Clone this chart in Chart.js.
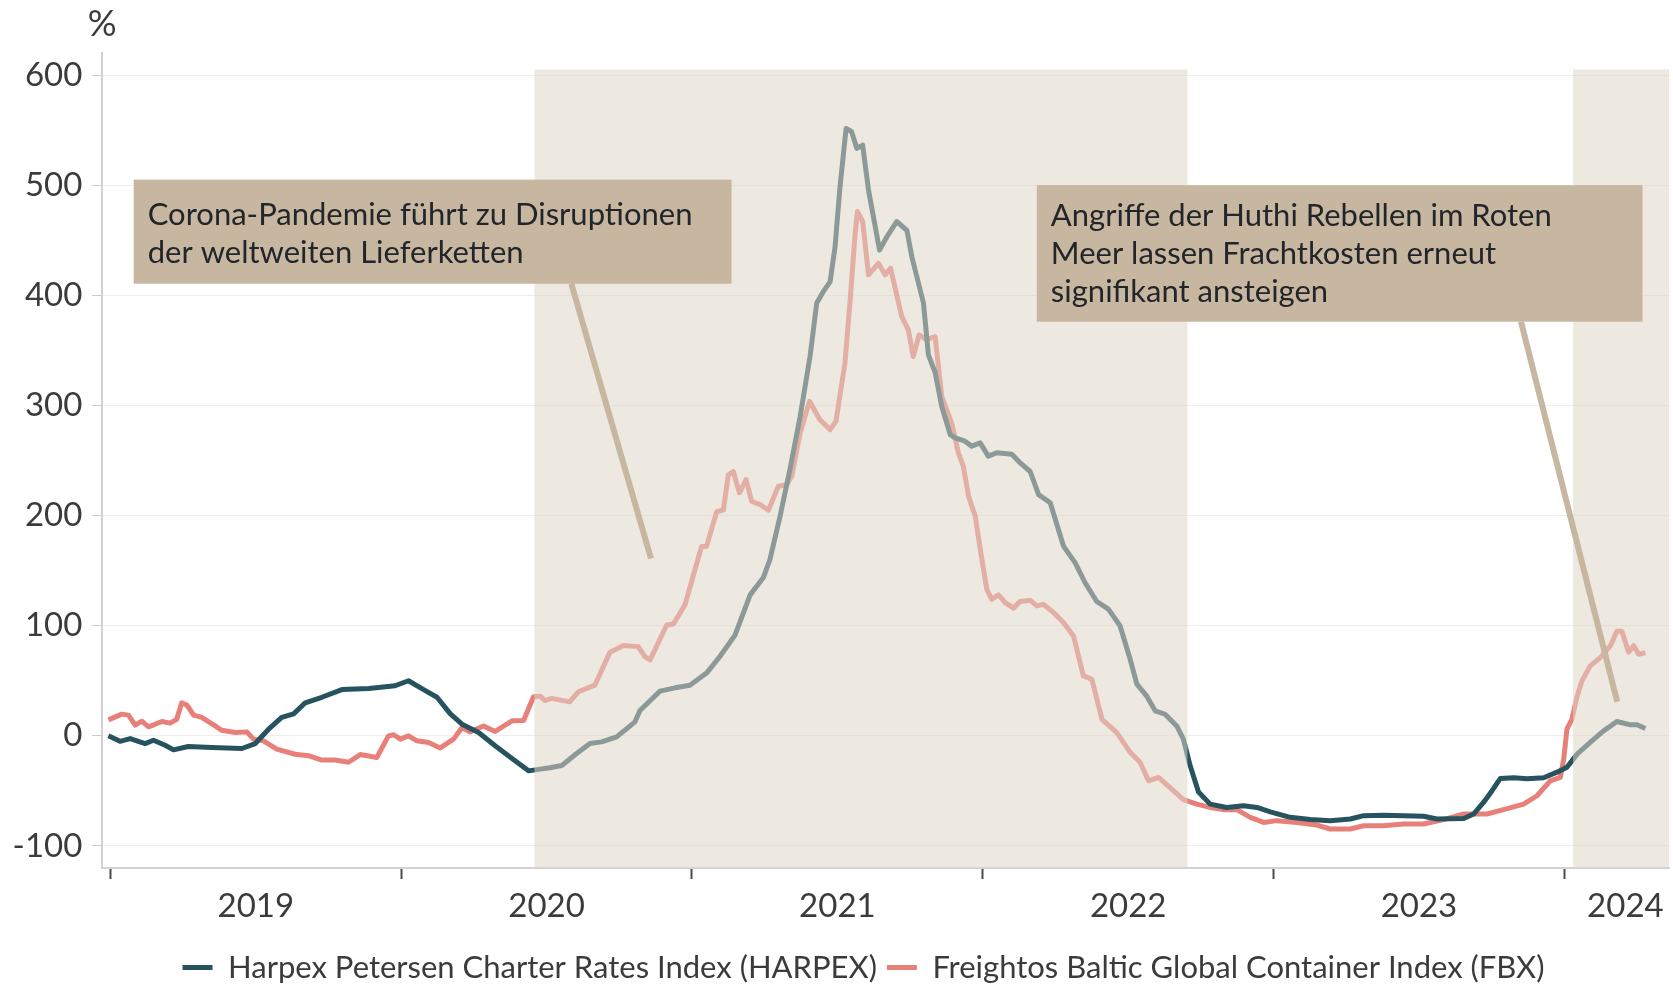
<!DOCTYPE html>
<html lang="de">
<head>
<meta charset="utf-8">
<title>Harpex und FBX</title>
<script src="https://cdn.jsdelivr.net/npm/chart.js@4.4.1/dist/chart.umd.min.js"></script>
<style>
    html, body { margin: 0; padding: 0; background: #ffffff; }
    .chart-wrap { position: relative; width: 1673px; height: 988px; }
</style>
</head>
<body>
<div class="chart-wrap"><canvas id="freightChart" width="1673" height="988"></canvas></div>
<script>
// Werte in Prozent, Zeitpunkte als Dezimaljahr
const harpexDates = [
    2018.993, 2019.033, 2019.068, 2019.119, 2019.148, 2019.188, 2019.217, 2019.268, 2019.349, 2019.452,
    2019.498, 2019.544, 2019.589, 2019.630, 2019.670, 2019.727, 2019.796, 2019.888, 2019.979, 2020.025,
    2020.077, 2020.123, 2020.169, 2020.209, 2020.266, 2020.323, 2020.381, 2020.438, 2020.484, 2020.511,
    2020.552, 2020.603, 2020.649, 2020.689, 2020.741, 2020.804, 2020.821, 2020.890, 2020.942, 2020.993,
    2021.050, 2021.096, 2021.148, 2021.200, 2021.245, 2021.268, 2021.303, 2021.337, 2021.372, 2021.406,
    2021.429, 2021.452, 2021.475, 2021.492, 2021.509, 2021.530, 2021.549, 2021.567, 2021.587, 2021.607,
    2021.645, 2021.670, 2021.704, 2021.739, 2021.756, 2021.796, 2021.813, 2021.836, 2021.859, 2021.888,
    2021.905, 2021.939, 2021.962, 2021.991, 2022.019, 2022.048, 2022.100, 2022.128, 2022.163, 2022.192,
    2022.232, 2022.278, 2022.318, 2022.352, 2022.392, 2022.432, 2022.472, 2022.507, 2022.530, 2022.564,
    2022.593, 2022.627, 2022.667, 2022.690, 2022.713, 2022.742, 2022.782, 2022.839, 2022.897, 2022.943,
    2022.989, 2023.057, 2023.126, 2023.195, 2023.264, 2023.310, 2023.378, 2023.447, 2023.516, 2023.562,
    2023.654, 2023.688, 2023.722, 2023.751, 2023.780, 2023.826, 2023.872, 2023.929, 2023.975, 2024.009,
    2024.044, 2024.089, 2024.135, 2024.181, 2024.227, 2024.250, 2024.279
];
const harpexValues = [
    0, -5, -2.5, -7, -4, -8.5, -12.7, -9.7, -10.6, -11.5,
    -7, 6, 16.7, 20, 30, 35, 42, 43, 45.5, 50,
    42, 35, 20, 10.6, 3, -9, -20.6, -31.8, -30, -29,
    -27, -16, -7, -5.5, -1, 12.7, 23, 40.6, 43.6, 46,
    57, 72, 91.5, 128, 143.5, 160, 199.5, 242, 290, 344.5,
    393, 403.5, 412.5, 444, 498.6, 551.5, 548.5, 533.4, 536.4, 495.6,
    441, 453, 467, 459, 435, 393, 346, 330, 299, 273.5,
    270.5, 267.5, 263, 266, 254, 257, 255.6, 248, 240, 219,
    211.6, 172, 157, 139, 122, 115, 100, 69.5, 47, 36,
    22.7, 19.6, 9, -3, -27, -51, -62, -65, -63.5, -65,
    -69, -74, -76, -77, -75.5, -72.5, -72, -72.5, -73, -75.5,
    -75, -71, -60.5, -50, -38.7, -38, -39, -38, -33, -28.6,
    -16.6, -6, 4.5, 13, 10, 10, 6.6
];

const fbxDates = [
    2018.993, 2019.039, 2019.062, 2019.085, 2019.108, 2019.131, 2019.177, 2019.205, 2019.228, 2019.245,
    2019.263, 2019.286, 2019.314, 2019.360, 2019.383, 2019.429, 2019.469, 2019.492, 2019.526, 2019.572,
    2019.635, 2019.681, 2019.727, 2019.773, 2019.819, 2019.859, 2019.916, 2019.956, 2019.974, 2019.997,
    2020.025, 2020.054, 2020.094, 2020.134, 2020.180, 2020.209, 2020.236, 2020.283, 2020.323, 2020.381,
    2020.421, 2020.455, 2020.478, 2020.494, 2020.517, 2020.557, 2020.580, 2020.609, 2020.666, 2020.718,
    2020.764, 2020.815, 2020.838, 2020.856, 2020.913, 2020.936, 2020.976, 2021.005, 2021.033, 2021.050,
    2021.085, 2021.108, 2021.125, 2021.142, 2021.163, 2021.186, 2021.205, 2021.234, 2021.263, 2021.297,
    2021.326, 2021.343, 2021.372, 2021.404, 2021.440, 2021.475, 2021.495, 2021.526, 2021.544, 2021.561,
    2021.569, 2021.587, 2021.607, 2021.641, 2021.664, 2021.683, 2021.721, 2021.744, 2021.761, 2021.781,
    2021.807, 2021.836, 2021.859, 2021.893, 2021.916, 2021.933, 2021.951, 2021.974, 2021.997, 2022.014,
    2022.031, 2022.054, 2022.077, 2022.106, 2022.128, 2022.163, 2022.186, 2022.209, 2022.243, 2022.278,
    2022.312, 2022.346, 2022.375, 2022.410, 2022.461, 2022.507, 2022.541, 2022.570, 2022.604, 2022.644,
    2022.690, 2022.736, 2022.782, 2022.828, 2022.874, 2022.920, 2022.966, 2023.011, 2023.080, 2023.149,
    2023.195, 2023.264, 2023.310, 2023.378, 2023.447, 2023.516, 2023.585, 2023.654, 2023.734, 2023.791,
    2023.860, 2023.906, 2023.952, 2023.986, 2023.998, 2024.009, 2024.026, 2024.044, 2024.061, 2024.089,
    2024.124, 2024.158, 2024.181, 2024.198, 2024.221, 2024.238, 2024.256, 2024.279
];
const fbxValues = [
    14.5, 19.7, 18.8, 9.7, 13.3, 8.2, 13, 11.5, 15, 30,
    28, 18.8, 16.7, 9, 5, 3, 3.6, -3, -4.5, -12,
    -16.7, -18, -22, -22, -24, -17, -19.7, 0, 1, -3,
    0, -4.5, -6, -11, -3, 7.6, 3.6, 9, 4, 13.6,
    14, 35.5, 36, 32, 34, 32, 31, 40, 46, 76,
    82, 81, 72, 69, 100.6, 101.5, 119, 146, 172, 172,
    203.6, 205, 237, 240, 220.6, 232.7, 213, 210, 205, 226.6,
    228, 235.7, 275, 303.7, 287, 278, 285.6, 338.5, 396, 456,
    476, 467, 418.6, 429, 418.6, 424.6, 381, 368.7, 344.5, 364,
    359.6, 362.6, 308, 284, 257, 245, 217.6, 199.5, 160, 133,
    124, 128, 121, 116, 122, 123, 118, 119.4, 112, 102.7,
    90.7, 54.4, 51.4, 15, 3, -15, -24, -40.8, -37.8, -47,
    -58, -62, -65, -67, -67, -74, -78.6, -77, -78.6, -81,
    -84.6, -84.6, -81.6, -81.6, -80, -80, -76, -71, -71, -67,
    -62, -54.4, -40.8, -37.8, -21, 6, 15, 36, 50, 63.5,
    71, 81.6, 95, 95, 76, 82, 74, 75.6
];

const yTicks = [-100, 0, 100, 200, 300, 400, 500, 600];
const yearTicks = [2019, 2020, 2021, 2022, 2023, 2024];
const yearLabels = ['2019', '2020', '2021', '2022', '2023', '2024'];
const yearLabelPositions = [2019.5, 2020.5, 2021.5, 2022.5, 2023.5, 2024.21];
const shadedPeriods = [[2020.458, 2022.704], [2024.03, 2024.36]];

const notes = [
    {
        lines: ['Corona-Pandemie führt zu Disruptionen', 'der weltweiten Lieferketten'],
        box: { from: 2019.08, to: 2021.136, top: 505, bottom: 410.5 },
        pointer: { from: [2020.585, 410.5], to: [2020.859, 161] },
        textOffset: 45,
    },
    {
        lines: ['Angriffe der Huthi Rebellen im Roten', 'Meer lassen Frachtkosten erneut', 'signifikant ansteigen'],
        box: { from: 2022.186, to: 2024.269, top: 500, bottom: 376 },
        pointer: { from: [2023.851, 376], to: [2024.182, 31] },
        textOffset: 41,
    },
];

const colorHarpex = '#27535f';
const colorFbx = '#e8807a';
const colorText = '#3b3b3b';
const colorNote = '#c8b7a0';
const colorShade = 'rgba(222, 213, 199, 0.55)';
const fontFamily = 'Lato, "Noto Sans", sans-serif';

const xMin = 2018.972;
const xMax = 2024.36;
const shadeTop = 605;
const legendShift = { x: 29, y: 5 };

const toPoints = (dates, values) => dates.map((d, i) => ({ x: d, y: values[i] }));

const overlayPlugin = {
    id: 'overlay',
    afterLayout(chart) {
        // move the legend to where the original sits
        const legend = chart.legend;
        if (legend) {
            legend.left += legendShift.x;
            legend.right += legendShift.x;
            legend.top += legendShift.y;
            legend.bottom += legendShift.y;
        }
    },
    afterDatasetsDraw(chart) {
        const { ctx, chartArea, scales } = chart;
        const x = scales.x;
        const y = scales.y;
        ctx.save();

        ctx.fillStyle = colorShade;
        shadedPeriods.forEach(([from, to]) => {
            const left = x.getPixelForValue(from);
            const right = Math.min(x.getPixelForValue(to), chartArea.right);
            const top = y.getPixelForValue(shadeTop);
            ctx.fillRect(left, top, right - left, chartArea.bottom - top);
        });

        notes.forEach((note) => {
            ctx.strokeStyle = colorNote;
            ctx.lineWidth = 6;
            ctx.beginPath();
            ctx.moveTo(x.getPixelForValue(note.pointer.from[0]), y.getPixelForValue(note.pointer.from[1]));
            ctx.lineTo(x.getPixelForValue(note.pointer.to[0]), y.getPixelForValue(note.pointer.to[1]));
            ctx.stroke();

            const left = x.getPixelForValue(note.box.from);
            const right = x.getPixelForValue(note.box.to);
            const top = y.getPixelForValue(note.box.top);
            const bottom = y.getPixelForValue(note.box.bottom);
            ctx.fillStyle = colorNote;
            ctx.fillRect(left, top, right - left, bottom - top);

            ctx.fillStyle = '#22252a';
            ctx.font = '31px ' + fontFamily;
            ctx.textBaseline = 'alphabetic';
            ctx.textAlign = 'left';
            note.lines.forEach((line, i) => {
                ctx.fillText(line, left + 14, top + note.textOffset + i * 38);
            });
        });

        ctx.fillStyle = colorText;
        ctx.font = '36px ' + fontFamily;
        ctx.textAlign = 'center';
        ctx.fillText('%', chartArea.left, 36);
        ctx.restore();
    },
};

const lineDataset = (label, dates, values, color) => ({
    label: label,
    data: toPoints(dates, values),
    borderColor: color,
    backgroundColor: color,
    borderWidth: 5,
    pointRadius: 0,
    tension: 0,
    borderJoinStyle: 'round',
    borderCapStyle: 'butt',
});

const canvas = document.getElementById('freightChart');
new Chart(canvas.getContext('2d'), {
    type: 'line',
    data: {
        datasets: [
            lineDataset('Harpex Petersen Charter Rates Index (HARPEX)', harpexDates, harpexValues, colorHarpex),
            lineDataset('Freightos Baltic Global Container Index (FBX)', fbxDates, fbxValues, colorFbx),
        ],
    },
    options: {
        responsive: false,
        animation: false,
        events: [],
        layout: { padding: { left: 0, right: 4, top: 53, bottom: 0 } },
        plugins: {
            tooltip: { enabled: false },
            legend: {
                position: 'bottom',
                labels: {
                    usePointStyle: true,
                    pointStyle: 'line',
                    pointStyleWidth: 30,
                    boxHeight: 31,
                    padding: 10,
                    color: colorText,
                    font: { family: fontFamily, size: 31 },
                },
            },
        },
        scales: {
            x: {
                type: 'linear',
                min: xMin,
                max: xMax,
                weight: 0,
                afterBuildTicks: (scale) => { scale.ticks = yearTicks.map((v) => ({ value: v })); },
                afterFit: (scale) => { scale.height = 11; },
                ticks: { display: false },
                grid: { drawOnChartArea: false, drawTicks: true, tickLength: 11, tickColor: '#4a4a4a', tickWidth: 2 },
                border: { color: '#d2d2d2', width: 2 },
            },
            xLabels: {
                type: 'linear',
                position: 'bottom',
                min: xMin,
                max: xMax,
                weight: 1,
                afterBuildTicks: (scale) => { scale.ticks = yearLabelPositions.map((v) => ({ value: v })); },
                afterFit: (scale) => { scale.height = 58; },
                ticks: {
                    callback: (value, index) => yearLabels[index],
                    autoSkip: false,
                    maxRotation: 0,
                    padding: 8,
                    color: colorText,
                    font: { family: fontFamily, size: 33 },
                },
                grid: { display: false, drawTicks: false },
                border: { display: false },
            },
            y: {
                min: -120,
                max: 620,
                afterBuildTicks: (scale) => { scale.ticks = yTicks.map((v) => ({ value: v })); },
                afterFit: (scale) => { scale.width = 102.3; },
                ticks: {
                    padding: 10,
                    color: colorText,
                    font: { family: fontFamily, size: 33 },
                },
                grid: { color: '#eeeeee', lineWidth: 1, tickColor: '#cccccc', tickLength: 10 },
                border: { color: '#d2d2d2', width: 2 },
            },
        },
    },
    plugins: [overlayPlugin],
});
</script>
</body>
</html>
